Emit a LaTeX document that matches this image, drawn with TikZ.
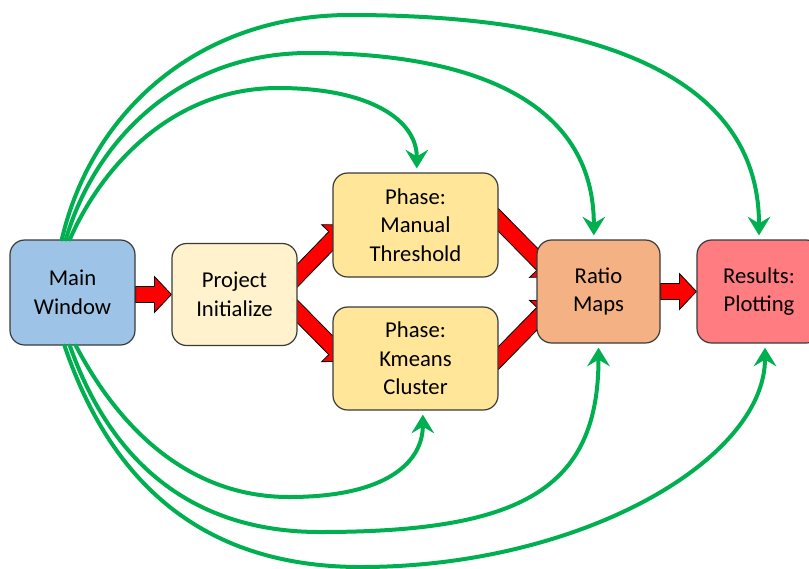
\documentclass[tikz,border=0pt]{standalone}
\usepackage{fontspec}
\setmainfont{Carlito}
\usetikzlibrary{arrows.meta}
\usetikzlibrary{calc}
\usetikzlibrary{backgrounds}
\definecolor{mainblue}{HTML}{9DC3E6}
\definecolor{projcream}{HTML}{FFF2CC}
\definecolor{phaseyellow}{HTML}{FFE699}
\definecolor{ratioorange}{HTML}{F4B183}
\definecolor{resultsred}{HTML}{FF7C80}
\definecolor{linkgreen}{HTML}{00B050}
\definecolor{boxline}{HTML}{3A3A3A}
\newcommand{\fatarrow}[2]{%
\coordinate (fa-base) at ($(#2)!12.75pt!(#1)$);
\draw[fatarr] ($(#1)!6pt!90:(#2)$) -- ($(fa-base)!6pt!90:(#2)$) -- ($(fa-base)!13.5pt!90:(#2)$) -- (#2)
  -- ($(fa-base)!13.5pt!-90:(#2)$) -- ($(fa-base)!6pt!-90:(#2)$) -- ($(#1)!6pt!-90:(#2)$) -- cycle;}

\begin{document}
\begin{tikzpicture}[line cap=round,line join=round,x=0.75pt,y=-0.75pt,
  box/.style={draw=boxline,line width=0.9pt,rounded corners=11pt,align=center,
    font=\fontsize{17}{21.5}\selectfont,inner sep=0pt},
  fatarr/.style={fill=red,draw=black,line width=0.6pt,line join=miter},
  link/.style={draw=linkgreen,line width=3pt,-{Stealth[length=14pt,width=17pt,inset=5pt]},shorten >=3pt}]
\useasboundingbox (0,0) rectangle (809,568);
\node[box,fill=mainblue,minimum width=93.75pt,minimum height=78.75pt] (main) at (72.5,292.5) {Main\\Window};
\node[box,fill=projcream,minimum width=93.75pt,minimum height=76.5pt] (proj) at (234.5,294.5) {Project\\Initialize};
\node[box,fill=phaseyellow,minimum width=123.75pt,minimum height=78pt] (manual) at (415.5,225) {Phase:\\Manual\\Threshold};
\node[box,fill=phaseyellow,minimum width=123.75pt,minimum height=77.25pt] (kmeans) at (415.5,358.5) {Phase:\\Kmeans\\Cluster};
\node[box,fill=ratioorange,minimum width=92.25pt,minimum height=77.25pt] (ratio) at (598.5,291.5) {Ratio\\Maps};
\node[box,fill=resultsred,minimum width=93pt,minimum height=77.25pt] (results) at (759,291.5) {Results:\\Plotting};
\begin{scope}[on background layer]
\coordinate (mp-s) at (main.east |- proj.west);
\coordinate (mp-e) at (proj.west);
\fatarrow{mp-s}{mp-e}
\coordinate (pm-s) at ([xshift=-5.25pt,yshift=9pt]proj.east);
\coordinate (pm-e) at ([xshift=10.5pt]manual.west);
\fatarrow{pm-s}{pm-e}
\coordinate (pk-s) at ([xshift=-5.25pt,yshift=-7.5pt]proj.east);
\coordinate (pk-e) at ([xshift=10.5pt,yshift=-2pt]kmeans.west);
\fatarrow{pk-s}{pk-e}
\coordinate (mr-s) at ([xshift=-6pt,yshift=9.75pt]manual.east);
\coordinate (mr-e) at ([xshift=13.5pt,yshift=11pt]ratio.west);
\fatarrow{mr-s}{mr-e}
\coordinate (kr-s) at ([xshift=-6pt,yshift=-5.6pt]kmeans.east);
\coordinate (kr-e) at ([xshift=13.5pt,yshift=-7pt]ratio.west);
\fatarrow{kr-s}{kr-e}
\coordinate (rr-s) at (ratio.east |- results.west);
\coordinate (rr-e) at (results.west);
\fatarrow{rr-s}{rr-e}
\end{scope}
\draw[link] ([xshift=-8pt]main.north) .. controls (92,110) and (200,15) .. (350,15)
  .. controls (560,15) and (759,60) .. (results.north);
\draw[link] ([xshift=-5pt]main.north) .. controls (95,140) and (180,53) .. (309,53)
  .. controls (470,53) and ([xshift=-3.5pt]ratio.north |- 0,100) .. ([xshift=-3.5pt]ratio.north);
\draw[link] ([xshift=-2pt]main.north) .. controls (100,170) and (170,88) .. (278,88)
  .. controls (370,88) and ([xshift=1pt]manual.north |- 0,120) .. ([xshift=1pt]manual.north);
\draw[link] ([xshift=2.5pt]main.south) .. controls (120,430) and (190,497) .. (289,497)
  .. controls (390,497) and ([xshift=5.5pt]kmeans.south |- 0,460) .. ([xshift=5.5pt]kmeans.south);
\draw[link] ([xshift=-2pt]main.south) .. controls (110,460) and (190,532) .. (320,532)
  .. controls (520,532) and (ratio.south |- 0,490) .. (ratio.south);
\draw[link] ([xshift=-6pt]main.south) .. controls (110,480) and (200,567) .. (361,567)
  .. controls (580,567) and ([xshift=4.5pt]results.south |- 0,460) .. ([xshift=4.5pt]results.south);
\end{tikzpicture}
\end{document}
